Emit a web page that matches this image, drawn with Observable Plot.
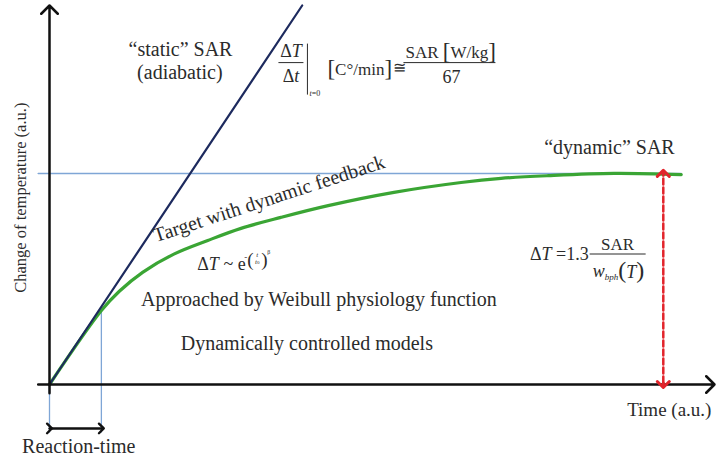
<!DOCTYPE html>
<html>
<head>
<meta charset="utf-8">
<script src="https://cdn.jsdelivr.net/npm/d3@7"></script>
<script src="https://cdn.jsdelivr.net/npm/@observablehq/plot@0.6"></script>
<style>
  html, body { margin: 0; padding: 0; background: #fff; }
  #chart svg { display: block; }
</style>
</head>
<body>
<div id="chart"></div>
<script>
// ---- Data (arbitrary units: time 0–100, temperature change 0–100) ----
const staticX = [0, 38];           // "static" SAR (adiabatic) straight rise
const staticY = [0, 100];
const dynamicX = [0, 7.8, 10.5, 14.0, 18.7, 23.8, 28.8, 34.8, 41.9, 51.8, 61.9, 67.9, 75.0, 84.9, 95.0];
const dynamicY = [0, 19.5, 24.6, 29.6, 34.4, 38.0, 41.2, 44.1, 47.2, 50.7, 53.3, 54.4, 55.1, 55.7, 55.4];
const steadyLevel = 55.7;          // "dynamic" SAR plateau
const steadyExtent = [-1.7, 95];
const reactionTime = 7.8;
const reactionMarkerBottom = -12.5;
const reactionArrowLevel = -11.6;
const deltaTTime = 92.3;           // where the ΔT double arrow stands
const xAxisExtent = [-1.7, 100];
const yAxisExtent = [-2.3, 100];

const labelText = ["\u201Cstatic\u201D SAR", "(adiabatic)", "\u201Cdynamic\u201D SAR",
  "Approached by Weibull physiology function", "Dynamically controlled models",
  "Time (a.u.)", "Reaction-time"];
const labelX = [19.7, 19.6, 84.2, 40.5, 38.7, 93.2, 4.4];
const labelY = [86.8, 80.7, 60.7, 20.8, 9.2, -8.4, -18.2];

const yTitle = "Change of temperature (a.u.)";
const curveTitle = "Target with dynamic feedback";

// ---- Styles ----
const serif = "'Liberation Serif', 'Times New Roman', serif";
const ink = "#2b2b2b";
const navy = "#1d2a5e";
const green = "#3aa534";
const lightBlue = "#7fa6d6";
const red = "#e2242b";

// helper: a mark that draws formula pieces around an anchor in data space
function formula(ax, ay, build) {
  return (index, scales) => {
    const g = d3.create("svg:g")
      .attr("transform", `translate(${scales.x(ax)},${scales.y(ay)})`)
      .attr("font-family", serif)
      .attr("fill", ink);
    build(g);
    return g.node();
  };
}
function txt(g, x, y, parts, size = 18, anchor = "start") {
  const t = g.append("text").attr("x", x).attr("y", y)
    .attr("font-size", size).attr("text-anchor", anchor);
  for (const p of parts) {
    const [s, o = {}] = typeof p === "string" ? [p] : p;
    const ts = t.append("tspan").text(s);
    if (o.i) ts.attr("font-style", "italic");
    if (o.size) ts.attr("font-size", o.size);
    if (o.dy) ts.attr("dy", o.dy);
  }
}
function bar(g, x1, x2, y1, y2 = y1, w = 1) {
  g.append("line").attr("x1", x1).attr("x2", x2).attr("y1", y1).attr("y2", y2)
    .attr("stroke", ink).attr("stroke-width", w);
}

const plot = Plot.plot({
  width: 720,
  height: 460,
  marginLeft: 49,
  marginRight: 6,
  marginTop: 5,
  marginBottom: 76,
  x: {domain: [0, 100], axis: null},
  y: {domain: [0, 100], axis: null},
  marks: [
    // plateau reference line
    Plot.line([[steadyExtent[0], steadyLevel], [steadyExtent[1], steadyLevel]],
      {stroke: lightBlue, strokeWidth: 1.5}),
    // reaction-time markers
    Plot.line([[0, 0], [0, reactionMarkerBottom]], {stroke: lightBlue, strokeWidth: 1.3}),
    Plot.line([[reactionTime, dynamicY[1]], [reactionTime, reactionMarkerBottom]], {stroke: lightBlue, strokeWidth: 1.3}),
    // dynamic curve
    Plot.line(dynamicX.map((x, i) => [x, dynamicY[i]]),
      {curve: "catmull-rom", stroke: green, strokeWidth: 3.2}),
    // static SAR line
    Plot.line(staticX.map((x, i) => [x, staticY[i]]), {stroke: navy, strokeWidth: 2.2}),
    // axes
    Plot.arrow([
      {x1: xAxisExtent[0], y1: 0, x2: xAxisExtent[1], y2: 0},
      {x1: 0, y1: yAxisExtent[0], x2: 0, y2: yAxisExtent[1]}
    ], {x1: "x1", y1: "y1", x2: "x2", y2: "y2", stroke: "#111", strokeWidth: 2.5, headLength: 7, headAngle: 90}),
    // ΔT double arrow
    Plot.line([[deltaTTime, 0.5], [deltaTTime, steadyLevel - 0.5]],
      {stroke: red, strokeWidth: 2.5, strokeDasharray: "6,3"}),
    Plot.line([[deltaTTime, steadyLevel - 0.4], [deltaTTime, steadyLevel]],
      {stroke: red, strokeWidth: 3, markerEnd: "arrow"}),
    Plot.line([[deltaTTime, 0.4], [deltaTTime, 0]],
      {stroke: red, strokeWidth: 3, markerEnd: "arrow"}),
    // reaction-time double arrow
    Plot.line([[0, reactionArrowLevel], [reactionTime, reactionArrowLevel]],
      {stroke: "#111", strokeWidth: 2.4, markerStart: "arrow", markerEnd: "arrow"}),
    // labels
    Plot.text(labelText, {x: (d, i) => labelX[i], y: (d, i) => labelY[i], text: d => d,
      fontFamily: serif, fontSize: (d, i) => (i === 5 ? 19 : 20), fill: ink, lineAnchor: "bottom", textAnchor: "middle"}),
    Plot.text([yTitle], {x: -4.4, y: 49.3, text: d => d, rotate: -90,
      fontFamily: serif, fontSize: 16.5, fill: ink, textAnchor: "middle", lineAnchor: "middle"}),
    Plot.text([curveTitle], {x: 33.3, y: 47.4, text: d => d, rotate: -18,
      fontFamily: serif, fontSize: 20, fill: ink, textAnchor: "middle", lineAnchor: "bottom"}),
    // formula: ΔT/Δt |t=0 [C°/min] ≅ SAR[W/kg]/67
    formula(34.5, 84.8, g => {
      txt(g, 12.5, -5.5, ["Δ", ["T", {i: 1}]], 18, "middle");
      bar(g, 0, 25, 0);
      txt(g, 12.5, 19.5, ["Δ", ["t", {i: 1}]], 18, "middle");
      bar(g, 29, 29, -19, 32);
      txt(g, 31, 33, [["t", {i: 1}], "=0"], 8);
      txt(g, 49, 12, [["[", {size: 23, dy: 1}], ["C°/min", {dy: -1}], ["]", {size: 23, dy: 1}]], 17);
      txt(g, 115, 10, ["≅"], 16);
      txt(g, 127, -5, ["SAR ", ["[", {size: 23, dy: 1}], ["W/kg", {dy: -1}], ["]", {size: 23, dy: 1}]], 17);
      bar(g, 125, 217, 0);
      txt(g, 173, 20.5, ["67"], 18, "middle");
    }),
    // formula: ΔT = 1.3 SAR / w_bph(T)
    formula(81.3, 34.3, g => {
      txt(g, -1, 6, ["Δ", ["T", {i: 1}], " =1.3"], 18, "end");
      txt(g, 28, -4, ["SAR"], 17, "middle");
      bar(g, 0, 56, 0);
      txt(g, 3, 23, [["w", {i: 1}], ["bph", {i: 1, size: 9, dy: 3}], ["(", {size: 24, dy: -2}], ["T", {i: 1}], [")", {size: 24}]], 18);
    }),
    // formula: ΔT ~ e^{-(t/t0)^β}
    formula(22.3, 30.1, g => {
      txt(g, 0, 0, ["Δ", ["T", {i: 1}], " ~ e"], 18);
      txt(g, 47, -10, ["-"], 9);
      txt(g, 50, -4, ["("], 19);
      txt(g, 60, -13, [["t", {i: 1}]], 7, "middle");
      txt(g, 60, -6, [["t", {i: 1}], ["0", {size: 5}]], 7, "middle");
      txt(g, 64, -4, [")"], 19);
      txt(g, 70, -16, ["β"], 6);
    })
  ]
});

document.getElementById("chart").appendChild(plot);
</script>
</body>
</html>
